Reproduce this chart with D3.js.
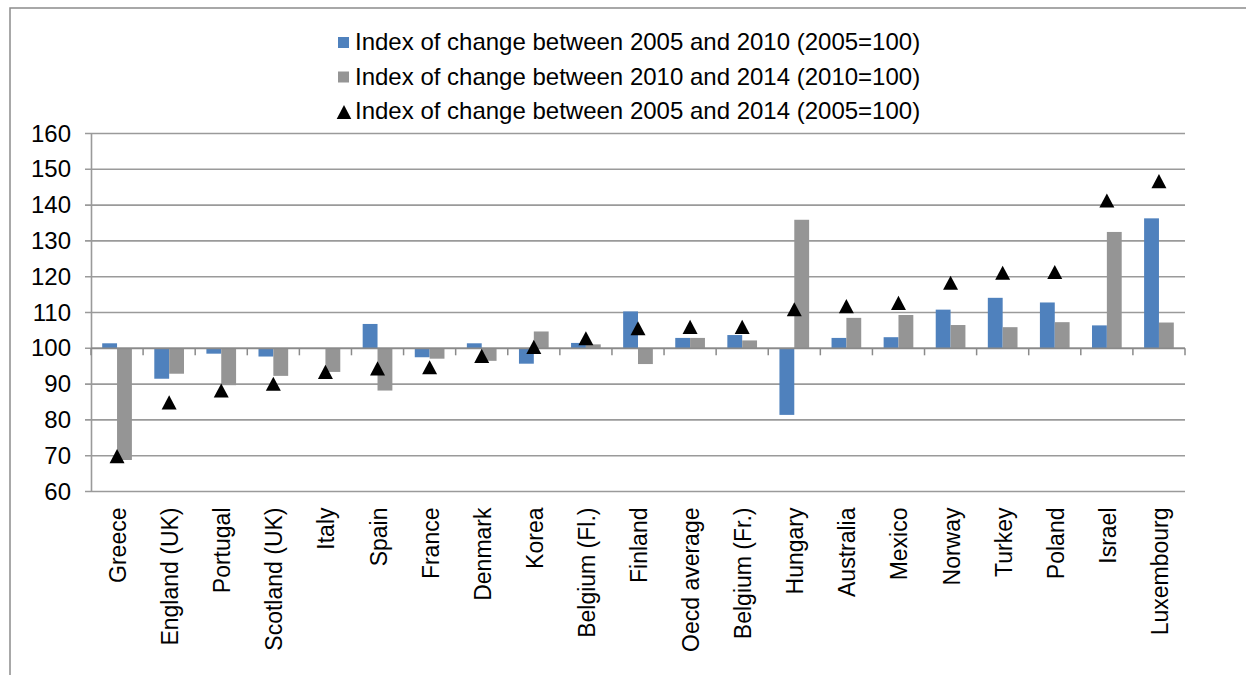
<!DOCTYPE html>
<html>
<head>
<meta charset="utf-8">
<script src="https://cdn.jsdelivr.net/npm/d3@7"></script>
<style>
  body { margin: 0; background: #fff; }
  svg { display: block; font-family: "Liberation Sans", Arial, sans-serif; }
</style>
</head>
<body>
<div id="chart"></div>
<script>
// data
var countries = ["Greece", "England (UK)", "Portugal", "Scotland (UK)", "Italy", "Spain", "France",
  "Denmark", "Korea", "Belgium (Fl.)", "Finland", "Oecd average", "Belgium (Fr.)", "Hungary",
  "Australia", "Mexico", "Norway", "Turkey", "Poland", "Israel", "Luxembourg"];

var idx0510 = [101.4, 91.5, 98.5, 97.7, 100, 106.8, 97.5, 101.4, 95.7, 101.5, 110.3, 102.9, 103.7,
  81.4, 102.9, 103.1, 110.8, 114.1, 112.8, 106.4, 136.3];
var idx1014 = [68.8, 92.9, 89.7, 92.3, 93.4, 88.2, 97.1, 96.5, 104.7, 101.1, 95.6, 102.9, 102.2,
  135.9, 108.5, 109.3, 106.5, 105.9, 107.3, 132.5, 107.2];
var idx0514 = [69.9, 84.9, 88.2, 90.1, 93.4, 94.4, 94.7, 97.9, 100.4, 102.8, 105.6, 106.0, 106.0,
  110.9, 111.8, 112.7, 118.3, 121.1, 121.3, 141.3, 146.7];

var yTicks = [60, 70, 80, 90, 100, 110, 120, 130, 140, 150, 160];
var legendLabels = [
  "Index of change between 2005 and 2010 (2005=100)",
  "Index of change between 2010 and 2014 (2010=100)",
  "Index of change between 2005 and 2014 (2005=100)"
];

var blue = "#4f81bd";
var grey = "#959595";
var lineCol = "#9a9a9a";

//set up SVG
var svgWidth = 1246;
var svgHeight = 675;
var plot = { left: 91, right: 1185, top: 133.5, bottom: 491.5 };

var svg = d3.select("#chart")
  .append("svg")
  .attr("width", svgWidth)
  .attr("height", svgHeight);

// outer frame (only top and left edges show)
svg.append("path")
  .attr("d", "M10,690 L10,8 L1260,8")
  .attr("fill", "none")
  .attr("stroke", "#8c8c8c")
  .attr("stroke-width", 1.5);

// scales
var y = d3.scaleLinear().domain([60, 160]).range([plot.bottom, plot.top]);

var x0 = d3.scaleBand()
  .domain(countries)
  .range([plot.left, plot.right])
  .paddingInner(0.43)
  .paddingOuter(0.215);

var x1 = d3.scaleBand()
  .domain(["a", "b"])
  .range([0, x0.bandwidth()]);

var xCat = d3.scaleBand().domain(countries).range([plot.left, plot.right]);

// gridlines
svg.append("g")
  .selectAll("line")
  .data(yTicks)
  .enter()
  .append("line")
  .attr("x1", plot.left - 6)
  .attr("x2", plot.right)
  .attr("y1", d => y(d))
  .attr("y2", d => y(d))
  .attr("stroke", lineCol)
  .attr("stroke-width", 1.6);

// y axis
var yAxis = d3.axisLeft(y).tickValues(yTicks).tickSize(0).tickPadding(20);
var yg = svg.append("g")
  .attr("transform", `translate(${plot.left}, 0)`)
  .call(yAxis);
yg.select(".domain").attr("stroke", lineCol).attr("stroke-width", 1.6);
yg.selectAll("text")
  .attr("fill", "#000")
  .style("font-size", "24px")
  .style("font-family", "'Liberation Sans', Arial, sans-serif");

// bars
var groups = svg.append("g")
  .selectAll("g")
  .data(countries)
  .enter()
  .append("g")
  .attr("transform", d => `translate(${x0(d)}, 0)`);

groups.append("rect")
  .attr("x", x1("a"))
  .attr("width", x1.bandwidth())
  .attr("y", (d, i) => y(Math.max(100, idx0510[i])))
  .attr("height", (d, i) => Math.abs(y(idx0510[i]) - y(100)))
  .attr("fill", blue);

groups.append("rect")
  .attr("x", x1("b"))
  .attr("width", x1.bandwidth())
  .attr("y", (d, i) => y(Math.max(100, idx1014[i])))
  .attr("height", (d, i) => Math.abs(y(idx1014[i]) - y(100)))
  .attr("fill", grey);

// x axis line at 100 with ticks at category boundaries
var axisY = y(100);
svg.append("line")
  .attr("x1", plot.left)
  .attr("x2", plot.right)
  .attr("y1", axisY)
  .attr("y2", axisY)
  .attr("stroke", "#8a8a8a")
  .attr("stroke-width", 1.8);

svg.append("g")
  .selectAll("line")
  .data(countries.concat(["__end"]))
  .enter()
  .append("line")
  .attr("x1", (d, i) => i < countries.length ? xCat(d) : plot.right)
  .attr("x2", (d, i) => i < countries.length ? xCat(d) : plot.right)
  .attr("y1", axisY)
  .attr("y2", axisY + 7)
  .attr("stroke", "#8a8a8a")
  .attr("stroke-width", 1.5);

// triangles
var tri = {
  draw: function (ctx, size) {
    var h = Math.sqrt(size);
    ctx.moveTo(0, -h / 2);
    ctx.lineTo(h * 0.53, h / 2);
    ctx.lineTo(-h * 0.53, h / 2);
    ctx.closePath();
  }
};

svg.append("g")
  .selectAll("path")
  .data(countries)
  .enter()
  .append("path")
  .attr("d", d3.symbol(tri, 200))
  .attr("transform", (d, i) => `translate(${x0(d) + x0.bandwidth() / 2}, ${y(idx0514[i])})`)
  .attr("fill", "#000");

// category labels
svg.append("g")
  .selectAll("text")
  .data(countries)
  .enter()
  .append("text")
  .attr("transform", d => `translate(${x0(d) + x0.bandwidth() / 2 + 9}, ${plot.bottom + 16}) rotate(-90)`)
  .attr("text-anchor", "end")
  .style("font-size", "23px")
  .text(d => d);

// legend
var legend = svg.append("g").attr("transform", "translate(337, 0)");
var rows = [50, 84.5, 119];

legend.append("rect").attr("x", 1).attr("y", rows[0] - 13).attr("width", 11).attr("height", 11).attr("fill", blue);
legend.append("rect").attr("x", 1).attr("y", rows[1] - 13).attr("width", 11).attr("height", 11).attr("fill", grey);
legend.append("path")
  .attr("d", d3.symbol(tri, 190))
  .attr("transform", `translate(7, ${rows[2] - 7})`)
  .attr("fill", "#000");

legend.selectAll("text")
  .data(legendLabels)
  .enter()
  .append("text")
  .attr("x", 18)
  .attr("y", (d, i) => rows[i])
  .style("font-size", "24px")
  .text(d => d);
</script>
</body>
</html>
